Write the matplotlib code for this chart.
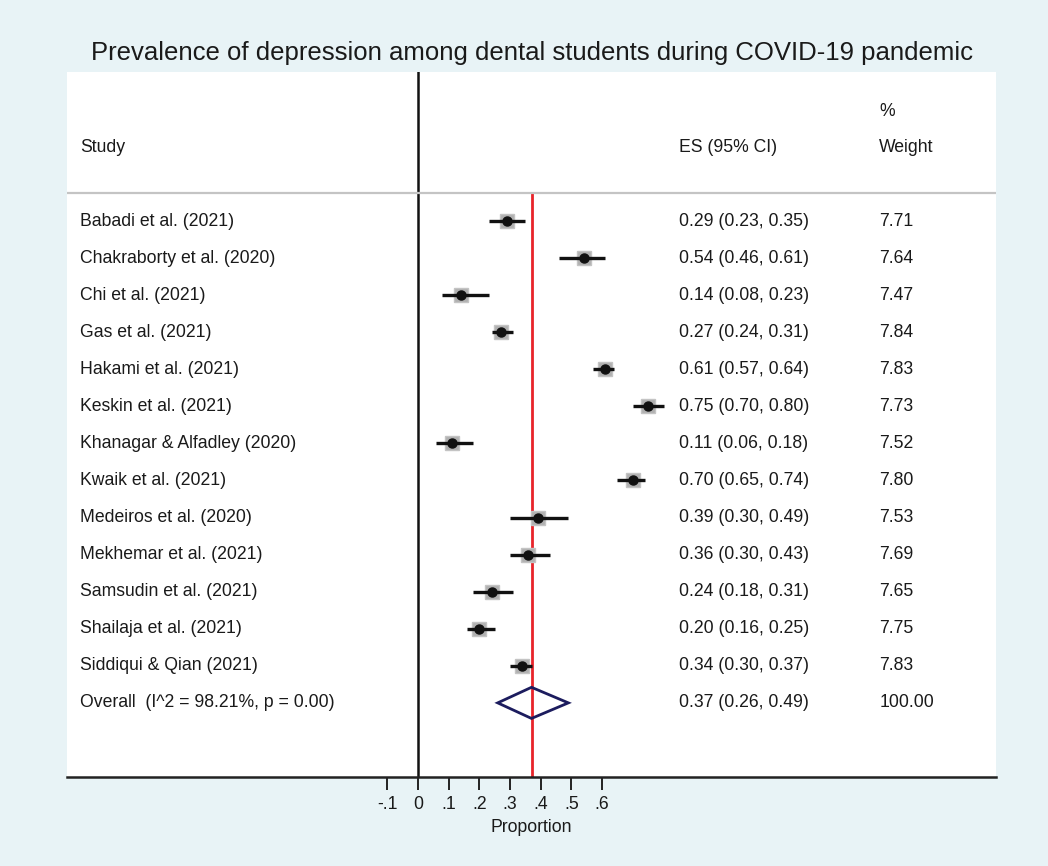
import matplotlib.pyplot as plt
from matplotlib.patches import Polygon

plt.rcParams['font.family'] = ['Liberation Sans', 'DejaVu Sans']

studies = ['Babadi et al. (2021)', 'Chakraborty et al. (2020)', 'Chi et al. (2021)',
           'Gas et al. (2021)', 'Hakami et al. (2021)', 'Keskin et al. (2021)',
           'Khanagar & Alfadley (2020)', 'Kwaik et al. (2021)', 'Medeiros et al. (2020)',
           'Mekhemar et al. (2021)', 'Samsudin et al. (2021)', 'Shailaja et al. (2021)',
           'Siddiqui & Qian (2021)']
es = [0.29, 0.54, 0.14, 0.27, 0.61, 0.75, 0.11, 0.70, 0.39, 0.36, 0.24, 0.20, 0.34]
lo = [0.23, 0.46, 0.08, 0.24, 0.57, 0.70, 0.06, 0.65, 0.30, 0.30, 0.18, 0.16, 0.30]
hi = [0.35, 0.61, 0.23, 0.31, 0.64, 0.80, 0.18, 0.74, 0.49, 0.43, 0.31, 0.25, 0.37]
weights = [7.71, 7.64, 7.47, 7.84, 7.83, 7.73, 7.52, 7.80, 7.53, 7.69, 7.65, 7.75, 7.83]

overall_label = 'Overall  (I^2 = 98.21%, p = 0.00)'
overall_es, overall_lo, overall_hi = 0.37, 0.26, 0.49
overall_weight = 100.00

xticks = [-0.1, 0, 0.1, 0.2, 0.3, 0.4, 0.5, 0.6]
xticklabels = ['-.1', '0', '.1', '.2', '.3', '.4', '.5', '.6']

bg = '#e8f3f6'
fig = plt.figure(figsize=(10.48, 8.66), dpi=100, facecolor=bg)
ax = fig.add_axes([67 / 1048, 89 / 866, 929 / 1048, 705 / 866])
ax.set_facecolor('white')

n = len(studies)
rows = [-i for i in range(n)]
y_overall = -n
ax.set_xlim(-1.143, 1.883)
ax.set_ylim(-15.0, 4.02)

# weighted boxes, CI lines and point estimates
for y, e, l, h, w in zip(rows, es, lo, hi, weights):
    ax.plot([l, h], [y, y], color='#111111', lw=2.4, solid_capstyle='butt', zorder=3)
    ax.plot(e, y, marker='s', ms=w * 1.3, color='#b0b0b0', mec='#c4c4c4', mew=1.0, zorder=2)
    ax.plot(e, y, marker='o', ms=6.5, color='#111111', zorder=4)

# pooled estimate diamond
dh = 0.42
diamond = Polygon([[overall_lo, y_overall], [overall_es, y_overall + dh],
                   [overall_hi, y_overall], [overall_es, y_overall - dh]],
                  closed=True, fill=False, ec='#1c1c5e', lw=2.0, zorder=5)
ax.add_patch(diamond)

# reference lines
ax.plot([0, 0], [-15.0, 4.02], color='#111111', lw=1.8, zorder=1)
ax.plot([overall_es, overall_es], [-15.0, 0.755], color='#e8242a', lw=2.0, zorder=1)
ax.plot([-1.143, 1.883], [0.755, 0.755], color='#c4c4c4', lw=1.6, zorder=1)

# table columns
x_study, x_es, x_wt = -1.100, 0.849, 1.503
fs = 12.7
tc = '#1a1a1a'
for y, s, e, l, h, w in zip(rows, studies, es, lo, hi, weights):
    ax.text(x_study, y, s, fontsize=fs, va='center', color=tc)
    ax.text(x_es, y, f'{e:.2f} ({l:.2f}, {h:.2f})', fontsize=fs, va='center', color=tc)
    ax.text(x_wt, y, f'{w:.2f}', fontsize=fs, va='center', color=tc)
ax.text(x_study, y_overall, overall_label, fontsize=fs, va='center', color=tc)
ax.text(x_es, y_overall, f'{overall_es:.2f} ({overall_lo:.2f}, {overall_hi:.2f})',
        fontsize=fs, va='center', color=tc)
ax.text(x_wt, y_overall, f'{overall_weight:.2f}', fontsize=fs, va='center', color=tc)

ax.text(x_study, 1.97, 'Study', fontsize=fs, va='center', color=tc)
ax.text(x_es, 1.97, 'ES (95% CI)', fontsize=fs, va='center', color=tc)
ax.text(x_wt, 1.97, 'Weight', fontsize=fs, va='center', color=tc)
ax.text(x_wt, 2.96, '%', fontsize=fs, va='center', color=tc)

for side in ['top', 'left', 'right']:
    ax.spines[side].set_visible(False)
ax.spines['bottom'].set_linewidth(1.8)
ax.spines['bottom'].set_color('#222222')
ax.set_yticks([])
ax.set_xticks(xticks)
ax.set_xticklabels(xticklabels, fontsize=12.7)
ax.tick_params(axis='x', length=9, width=1.4, color='#222222', pad=5, labelcolor=tc)
ax.set_xlabel('Proportion', fontsize=12.7, labelpad=4, color=tc)

fig.text(532 / 1048, 1 - 53 / 866, 'Prevalence of depression among dental students during COVID-19 pandemic',
         fontsize=18.5, ha='center', va='center', color=tc)

fig.savefig('out.png', dpi=100, facecolor=bg)
